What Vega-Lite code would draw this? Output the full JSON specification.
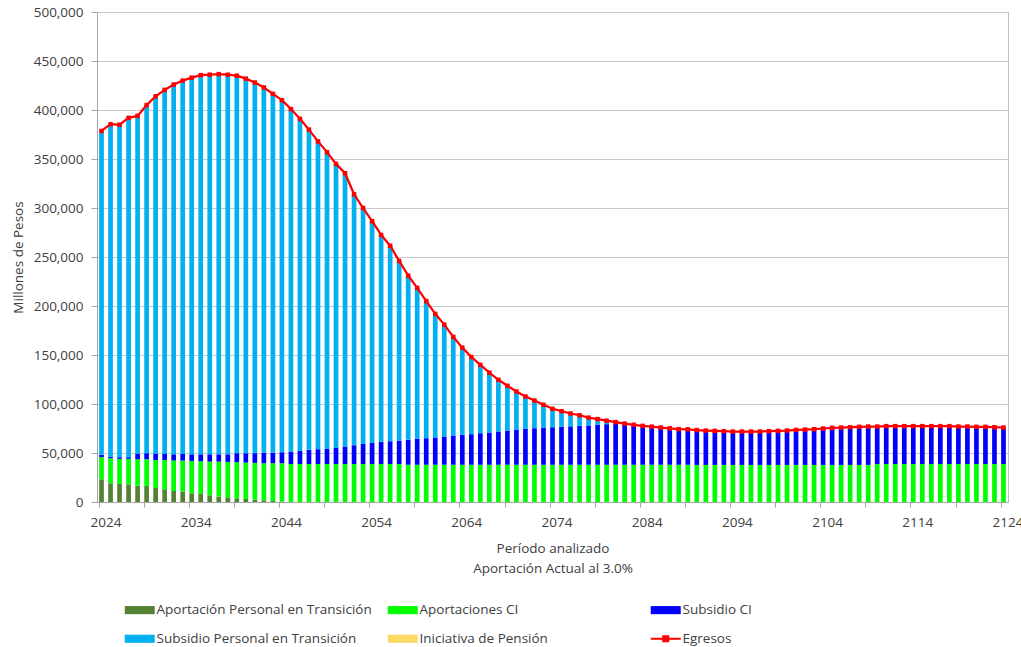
{
  "$schema": "https://vega.github.io/schema/vega-lite/v6.json",
  "autosize": {"type": "none"},
  "width": 911,
  "height": 490,
  "padding": {"left": 97, "top": 12, "right": 13, "bottom": 145},
  "background": "white",
  "config": {
    "font": "Open Sans",
    "view": {"stroke": "#bfbfbf", "strokeWidth": 1},
    "axis": {
      "labelFont": "Open Sans", "labelFontSize": 13.5, "labelColor": "#404040",
      "titleFont": "Open Sans", "titleFontSize": 13.5, "titleFontWeight": "normal", "titleColor": "#404040",
      "domainColor": "#a6a6a6", "tickColor": "#a6a6a6", "gridColor": "#c8c8c8"
    }
  },
  "data": {
    "values": [
      {"year": 2024, "a_apt": 23200, "b_aci": 22500, "c_sci": 2400, "d_spt": 330500, "e_ip": 0, "eg": 378600},
      {"year": 2025, "a_apt": 19100, "b_aci": 25600, "c_sci": 1600, "d_spt": 339200, "e_ip": 0, "eg": 385500},
      {"year": 2026, "a_apt": 18400, "b_aci": 25600, "c_sci": 1700, "d_spt": 339300, "e_ip": 0, "eg": 385000},
      {"year": 2027, "a_apt": 18100, "b_aci": 25900, "c_sci": 1700, "d_spt": 346300, "e_ip": 0, "eg": 392000},
      {"year": 2028, "a_apt": 16700, "b_aci": 26900, "c_sci": 5500, "d_spt": 344900, "e_ip": 0, "eg": 394000},
      {"year": 2029, "a_apt": 16400, "b_aci": 27200, "c_sci": 6200, "d_spt": 355200, "e_ip": 0, "eg": 405000},
      {"year": 2030, "a_apt": 14300, "b_aci": 28600, "c_sci": 6200, "d_spt": 364900, "e_ip": 0, "eg": 414000},
      {"year": 2031, "a_apt": 13000, "b_aci": 29900, "c_sci": 6200, "d_spt": 371400, "e_ip": 0, "eg": 420500},
      {"year": 2032, "a_apt": 11200, "b_aci": 31100, "c_sci": 6400, "d_spt": 377300, "e_ip": 0, "eg": 426000},
      {"year": 2033, "a_apt": 10600, "b_aci": 31700, "c_sci": 6800, "d_spt": 380900, "e_ip": 0, "eg": 430000},
      {"year": 2034, "a_apt": 8900, "b_aci": 33000, "c_sci": 6800, "d_spt": 384300, "e_ip": 0, "eg": 433000},
      {"year": 2035, "a_apt": 8200, "b_aci": 33400, "c_sci": 7100, "d_spt": 386900, "e_ip": 0, "eg": 435600},
      {"year": 2036, "a_apt": 6800, "b_aci": 34400, "c_sci": 7500, "d_spt": 387300, "e_ip": 0, "eg": 436000},
      {"year": 2037, "a_apt": 5500, "b_aci": 35700, "c_sci": 7500, "d_spt": 387900, "e_ip": 0, "eg": 436600},
      {"year": 2038, "a_apt": 4800, "b_aci": 36100, "c_sci": 7800, "d_spt": 387300, "e_ip": 0, "eg": 436000},
      {"year": 2039, "a_apt": 3800, "b_aci": 36800, "c_sci": 9200, "d_spt": 385200, "e_ip": 0, "eg": 435000},
      {"year": 2040, "a_apt": 3100, "b_aci": 37100, "c_sci": 9600, "d_spt": 382200, "e_ip": 0, "eg": 432000},
      {"year": 2041, "a_apt": 2400, "b_aci": 37500, "c_sci": 9900, "d_spt": 378200, "e_ip": 0, "eg": 428000},
      {"year": 2042, "a_apt": 1700, "b_aci": 37800, "c_sci": 10900, "d_spt": 372600, "e_ip": 0, "eg": 423000},
      {"year": 2043, "a_apt": 1000, "b_aci": 38500, "c_sci": 10900, "d_spt": 366100, "e_ip": 0, "eg": 416500},
      {"year": 2044, "a_apt": 500, "b_aci": 39000, "c_sci": 11300, "d_spt": 359200, "e_ip": 0, "eg": 410000},
      {"year": 2045, "a_apt": 0, "b_aci": 38800, "c_sci": 12700, "d_spt": 349500, "e_ip": 0, "eg": 401000},
      {"year": 2046, "a_apt": 0, "b_aci": 38800, "c_sci": 13300, "d_spt": 338900, "e_ip": 0, "eg": 391000},
      {"year": 2047, "a_apt": 0, "b_aci": 38800, "c_sci": 14400, "d_spt": 326800, "e_ip": 0, "eg": 380000},
      {"year": 2048, "a_apt": 0, "b_aci": 38800, "c_sci": 15100, "d_spt": 314100, "e_ip": 0, "eg": 368000},
      {"year": 2049, "a_apt": 0, "b_aci": 38800, "c_sci": 15400, "d_spt": 302800, "e_ip": 0, "eg": 357000},
      {"year": 2050, "a_apt": 0, "b_aci": 38800, "c_sci": 16400, "d_spt": 289800, "e_ip": 0, "eg": 345000},
      {"year": 2051, "a_apt": 0, "b_aci": 38800, "c_sci": 17800, "d_spt": 278900, "e_ip": 0, "eg": 335500},
      {"year": 2052, "a_apt": 0, "b_aci": 38800, "c_sci": 19200, "d_spt": 256000, "e_ip": 0, "eg": 314000},
      {"year": 2053, "a_apt": 0, "b_aci": 38800, "c_sci": 20500, "d_spt": 240700, "e_ip": 0, "eg": 300000},
      {"year": 2054, "a_apt": 0, "b_aci": 38800, "c_sci": 21500, "d_spt": 226200, "e_ip": 0, "eg": 286500},
      {"year": 2055, "a_apt": 0, "b_aci": 38800, "c_sci": 22600, "d_spt": 211100, "e_ip": 0, "eg": 272500},
      {"year": 2056, "a_apt": 0, "b_aci": 38800, "c_sci": 23200, "d_spt": 199500, "e_ip": 0, "eg": 261500},
      {"year": 2057, "a_apt": 0, "b_aci": 38800, "c_sci": 23900, "d_spt": 183300, "e_ip": 0, "eg": 246000},
      {"year": 2058, "a_apt": 0, "b_aci": 38000, "c_sci": 25400, "d_spt": 167600, "e_ip": 0, "eg": 231000},
      {"year": 2059, "a_apt": 0, "b_aci": 38000, "c_sci": 26700, "d_spt": 153800, "e_ip": 0, "eg": 218500},
      {"year": 2060, "a_apt": 0, "b_aci": 38000, "c_sci": 27100, "d_spt": 139900, "e_ip": 0, "eg": 205000},
      {"year": 2061, "a_apt": 0, "b_aci": 38000, "c_sci": 27800, "d_spt": 126200, "e_ip": 0, "eg": 192000},
      {"year": 2062, "a_apt": 0, "b_aci": 38000, "c_sci": 28800, "d_spt": 114200, "e_ip": 0, "eg": 181000},
      {"year": 2063, "a_apt": 0, "b_aci": 38000, "c_sci": 29800, "d_spt": 100700, "e_ip": 0, "eg": 168500},
      {"year": 2064, "a_apt": 0, "b_aci": 38000, "c_sci": 30500, "d_spt": 89000, "e_ip": 0, "eg": 157500},
      {"year": 2065, "a_apt": 0, "b_aci": 38000, "c_sci": 31200, "d_spt": 78800, "e_ip": 0, "eg": 148000},
      {"year": 2066, "a_apt": 0, "b_aci": 38000, "c_sci": 32200, "d_spt": 69800, "e_ip": 0, "eg": 140000},
      {"year": 2067, "a_apt": 0, "b_aci": 38000, "c_sci": 32900, "d_spt": 61100, "e_ip": 0, "eg": 132000},
      {"year": 2068, "a_apt": 0, "b_aci": 38000, "c_sci": 33900, "d_spt": 52800, "e_ip": 0, "eg": 124700},
      {"year": 2069, "a_apt": 0, "b_aci": 38000, "c_sci": 34900, "d_spt": 45700, "e_ip": 0, "eg": 118600},
      {"year": 2070, "a_apt": 0, "b_aci": 38000, "c_sci": 35600, "d_spt": 39200, "e_ip": 0, "eg": 112800},
      {"year": 2071, "a_apt": 0, "b_aci": 38000, "c_sci": 36600, "d_spt": 33100, "e_ip": 0, "eg": 107700},
      {"year": 2072, "a_apt": 0, "b_aci": 38000, "c_sci": 37300, "d_spt": 28300, "e_ip": 0, "eg": 103600},
      {"year": 2073, "a_apt": 0, "b_aci": 38000, "c_sci": 38000, "d_spt": 23200, "e_ip": 0, "eg": 99200},
      {"year": 2074, "a_apt": 0, "b_aci": 38000, "c_sci": 38300, "d_spt": 18800, "e_ip": 0, "eg": 95100},
      {"year": 2075, "a_apt": 0, "b_aci": 38000, "c_sci": 38700, "d_spt": 16000, "e_ip": 0, "eg": 92700},
      {"year": 2076, "a_apt": 0, "b_aci": 38000, "c_sci": 39200, "d_spt": 13100, "e_ip": 0, "eg": 90300},
      {"year": 2077, "a_apt": 0, "b_aci": 38000, "c_sci": 39700, "d_spt": 10800, "e_ip": 0, "eg": 88500},
      {"year": 2078, "a_apt": 0, "b_aci": 38000, "c_sci": 40200, "d_spt": 7900, "e_ip": 0, "eg": 86100},
      {"year": 2079, "a_apt": 0, "b_aci": 38000, "c_sci": 40800, "d_spt": 5800, "e_ip": 0, "eg": 84600},
      {"year": 2080, "a_apt": 0, "b_aci": 38000, "c_sci": 41400, "d_spt": 3600, "e_ip": 0, "eg": 83000},
      {"year": 2081, "a_apt": 0, "b_aci": 38000, "c_sci": 41800, "d_spt": 1700, "e_ip": 0, "eg": 81500},
      {"year": 2082, "a_apt": 0, "b_aci": 38000, "c_sci": 41600, "d_spt": 400, "e_ip": 0, "eg": 80000},
      {"year": 2083, "a_apt": 0, "b_aci": 38000, "c_sci": 40800, "d_spt": 0, "e_ip": 0, "eg": 78800},
      {"year": 2084, "a_apt": 0, "b_aci": 38000, "c_sci": 39700, "d_spt": 0, "e_ip": 0, "eg": 77700},
      {"year": 2085, "a_apt": 0, "b_aci": 38000, "c_sci": 38900, "d_spt": 0, "e_ip": 0, "eg": 76900},
      {"year": 2086, "a_apt": 0, "b_aci": 38000, "c_sci": 38000, "d_spt": 0, "e_ip": 0, "eg": 76000},
      {"year": 2087, "a_apt": 0, "b_aci": 38000, "c_sci": 37200, "d_spt": 0, "e_ip": 0, "eg": 75200},
      {"year": 2088, "a_apt": 0, "b_aci": 38000, "c_sci": 36400, "d_spt": 0, "e_ip": 0, "eg": 74400},
      {"year": 2089, "a_apt": 0, "b_aci": 38000, "c_sci": 36200, "d_spt": 0, "e_ip": 0, "eg": 74200},
      {"year": 2090, "a_apt": 0, "b_aci": 37800, "c_sci": 35600, "d_spt": 0, "e_ip": 0, "eg": 73400},
      {"year": 2091, "a_apt": 0, "b_aci": 37800, "c_sci": 35100, "d_spt": 0, "e_ip": 0, "eg": 72900},
      {"year": 2092, "a_apt": 0, "b_aci": 37800, "c_sci": 34800, "d_spt": 0, "e_ip": 0, "eg": 72600},
      {"year": 2093, "a_apt": 0, "b_aci": 37800, "c_sci": 34500, "d_spt": 0, "e_ip": 0, "eg": 72300},
      {"year": 2094, "a_apt": 0, "b_aci": 37800, "c_sci": 34100, "d_spt": 0, "e_ip": 0, "eg": 71900},
      {"year": 2095, "a_apt": 0, "b_aci": 37800, "c_sci": 34100, "d_spt": 0, "e_ip": 0, "eg": 71900},
      {"year": 2096, "a_apt": 0, "b_aci": 37800, "c_sci": 34100, "d_spt": 0, "e_ip": 0, "eg": 71900},
      {"year": 2097, "a_apt": 0, "b_aci": 37800, "c_sci": 34100, "d_spt": 0, "e_ip": 0, "eg": 71900},
      {"year": 2098, "a_apt": 0, "b_aci": 37800, "c_sci": 34500, "d_spt": 0, "e_ip": 0, "eg": 72300},
      {"year": 2099, "a_apt": 0, "b_aci": 37800, "c_sci": 34800, "d_spt": 0, "e_ip": 0, "eg": 72600},
      {"year": 2100, "a_apt": 0, "b_aci": 37800, "c_sci": 35100, "d_spt": 0, "e_ip": 0, "eg": 72900},
      {"year": 2101, "a_apt": 0, "b_aci": 37800, "c_sci": 35800, "d_spt": 0, "e_ip": 0, "eg": 73600},
      {"year": 2102, "a_apt": 0, "b_aci": 37800, "c_sci": 36100, "d_spt": 0, "e_ip": 0, "eg": 73900},
      {"year": 2103, "a_apt": 0, "b_aci": 37800, "c_sci": 36500, "d_spt": 0, "e_ip": 0, "eg": 74300},
      {"year": 2104, "a_apt": 0, "b_aci": 37800, "c_sci": 37200, "d_spt": 0, "e_ip": 0, "eg": 75000},
      {"year": 2105, "a_apt": 0, "b_aci": 37800, "c_sci": 37900, "d_spt": 0, "e_ip": 0, "eg": 75700},
      {"year": 2106, "a_apt": 0, "b_aci": 37800, "c_sci": 38200, "d_spt": 0, "e_ip": 0, "eg": 76000},
      {"year": 2107, "a_apt": 0, "b_aci": 37800, "c_sci": 38500, "d_spt": 0, "e_ip": 0, "eg": 76300},
      {"year": 2108, "a_apt": 0, "b_aci": 37800, "c_sci": 38900, "d_spt": 0, "e_ip": 0, "eg": 76700},
      {"year": 2109, "a_apt": 0, "b_aci": 37800, "c_sci": 39200, "d_spt": 0, "e_ip": 0, "eg": 77000},
      {"year": 2110, "a_apt": 0, "b_aci": 38800, "c_sci": 38200, "d_spt": 0, "e_ip": 0, "eg": 77000},
      {"year": 2111, "a_apt": 0, "b_aci": 38800, "c_sci": 38600, "d_spt": 0, "e_ip": 0, "eg": 77400},
      {"year": 2112, "a_apt": 0, "b_aci": 38800, "c_sci": 38600, "d_spt": 0, "e_ip": 0, "eg": 77400},
      {"year": 2113, "a_apt": 0, "b_aci": 38800, "c_sci": 38600, "d_spt": 0, "e_ip": 0, "eg": 77400},
      {"year": 2114, "a_apt": 0, "b_aci": 38800, "c_sci": 38600, "d_spt": 0, "e_ip": 0, "eg": 77400},
      {"year": 2115, "a_apt": 0, "b_aci": 38800, "c_sci": 38600, "d_spt": 0, "e_ip": 0, "eg": 77400},
      {"year": 2116, "a_apt": 0, "b_aci": 38800, "c_sci": 38600, "d_spt": 0, "e_ip": 0, "eg": 77400},
      {"year": 2117, "a_apt": 0, "b_aci": 38800, "c_sci": 38600, "d_spt": 0, "e_ip": 0, "eg": 77400},
      {"year": 2118, "a_apt": 0, "b_aci": 38800, "c_sci": 38600, "d_spt": 0, "e_ip": 0, "eg": 77400},
      {"year": 2119, "a_apt": 0, "b_aci": 38800, "c_sci": 38200, "d_spt": 0, "e_ip": 0, "eg": 77000},
      {"year": 2120, "a_apt": 0, "b_aci": 38800, "c_sci": 38200, "d_spt": 0, "e_ip": 0, "eg": 77000},
      {"year": 2121, "a_apt": 0, "b_aci": 38800, "c_sci": 37900, "d_spt": 0, "e_ip": 0, "eg": 76700},
      {"year": 2122, "a_apt": 0, "b_aci": 38800, "c_sci": 37900, "d_spt": 0, "e_ip": 0, "eg": 76700},
      {"year": 2123, "a_apt": 0, "b_aci": 38800, "c_sci": 37500, "d_spt": 0, "e_ip": 0, "eg": 76300},
      {"year": 2124, "a_apt": 0, "b_aci": 38800, "c_sci": 37200, "d_spt": 0, "e_ip": 0, "eg": 76000}
    ]
  },
  "encoding": {
    "x": {
      "field": "year", "type": "ordinal",
      "scale": {"paddingInner": 0.48, "paddingOuter": 0.24},
      "axis": {
        "title": ["Período analizado", "Aportación Actual al 3.0%"],
        "titleLineHeight": 20, "titlePadding": 13,
        "values": [2024, 2029, 2034, 2039, 2044, 2049, 2054, 2059, 2064, 2069, 2074, 2079, 2084, 2089, 2094, 2099, 2104, 2109, 2114, 2119, 2124],
        "labelExpr": "(datum.value - 2024) % 10 === 0 ? datum.value : ''",
        "bandPosition": 0, "labelOffset": 4.5,
        "labelAngle": 0, "tickSize": 5, "labelPadding": 8, "grid": false
      }
    }
  },
  "layer": [
    {
      "transform": [{"fold": ["a_apt", "b_aci", "c_sci", "d_spt", "e_ip"], "as": ["serie", "valor"]}],
      "mark": {"type": "bar"},
      "encoding": {
        "y": {
          "field": "valor", "type": "quantitative", "stack": "zero",
          "scale": {"domain": [0, 500000]},
          "axis": {"title": "Millones de Pesos", "values": [0, 50000, 100000, 150000, 200000, 250000, 300000, 350000, 400000, 450000, 500000], "format": ",.0f", "tickSize": 6, "labelPadding": 8, "titlePadding": 8, "grid": true}
        },
        "order": {"field": "serie", "sort": "ascending"},
        "color": {
          "field": "serie", "type": "nominal",
          "scale": {
            "domain": ["a_apt", "b_aci", "c_sci", "d_spt", "e_ip", "f_eg"],
            "range": ["#548235", "#00ff00", "#0000ff", "#00b0f0", "#ffd966", "#ff0000"]
          },
          "legend": {
            "orient": "none", "legendX": 36, "legendY": 591, "direction": "horizontal",
            "title": null, "columns": 3, "gridAlign": "all", "columnPadding": 11, "rowPadding": 14,
            "symbolType": "M-1,-0.27L1,-0.27L1,0.27L-1,0.27Z", "symbolSize": 900,
            "labelFont": "Open Sans", "labelFontSize": 13.5, "labelColor": "#404040", "labelOffset": 10, "labelLimit": 400,
            "labelExpr": "datum.value === 'a_apt' ? 'Aportación Personal en Transición' : datum.value === 'b_aci' ? 'Aportaciones CI' : datum.value === 'c_sci' ? 'Subsidio CI' : datum.value === 'd_spt' ? 'Subsidio Personal en Transición' : datum.value === 'e_ip' ? 'Iniciativa de Pensión' : 'Egresos'",
            "encode": {
              "symbols": {
                "update": {
                  "shape": {"signal": "datum.value === 'f_eg' ? 'M-1,0L1,0M-0.17,-0.17L0.17,-0.17L0.17,0.17L-0.17,0.17Z' : 'M-1,-0.27L1,-0.27L1,0.27L-1,0.27Z'"},
                  "fill": {"signal": "scale('color', datum.value)"},
                  "stroke": {"signal": "scale('color', datum.value)"},
                  "strokeWidth": {"signal": "datum.value === 'f_eg' ? 2 : 0"},
                  "opacity": {"value": 1},
                  "fillOpacity": {"value": 1}
                }
              }
            }
          }
        }
      }
    },
    {
      "mark": {"type": "line", "strokeWidth": 2.25, "point": {"shape": "square", "size": 20, "filled": true}},
      "encoding": {
        "y": {"field": "eg", "type": "quantitative", "title": "Millones de Pesos"},
        "color": {"datum": "f_eg"}
      }
    }
  ]
}
